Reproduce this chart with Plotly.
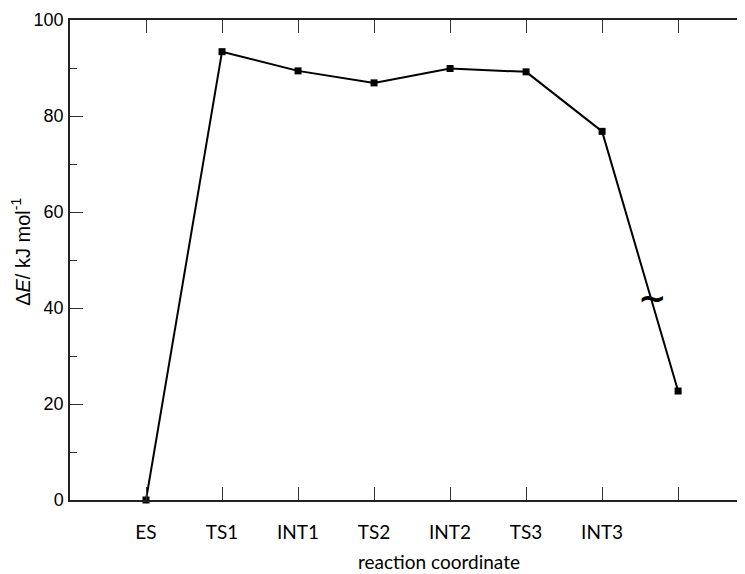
import plotly.graph_objects as go

categories = ["ES", "TS1", "INT1", "TS2", "INT2", "TS3", "INT3", ""]
energies = [0.0, 93.4, 89.4, 86.9, 89.9, 89.2, 76.8, 22.7]
positions = list(range(len(categories)))
y_ticks = [0, 20, 40, 60, 80, 100]

fig = go.Figure()
fig.add_trace(go.Scatter(
    x=positions, y=energies, mode="lines+markers",
    line=dict(color="black", width=2),
    marker=dict(symbol="square", size=7, color="black"),
    showlegend=False, cliponaxis=False,
))
# invisible trace to anchor the right-side tick axis
fig.add_trace(go.Scatter(x=[positions[0]], y=[energies[0]], yaxis="y2",
                         mode="markers", marker=dict(opacity=0),
                         showlegend=False, hoverinfo="skip"))

fig.update_layout(
    width=737, height=566,
    margin=dict(l=62, r=0, t=12, b=74),
    plot_bgcolor="white", paper_bgcolor="white",
    font=dict(family="Liberation Sans, Arial", size=18, color="black"),
    xaxis=dict(
        range=[-1, 7.88], tickvals=positions, ticktext=categories,
        ticks="inside", ticklen=13, tickwidth=1, tickcolor="#333",
        showline=True, linecolor="#222", linewidth=1.5, mirror="ticks",
        showgrid=False, zeroline=False, automargin=False,
        tickfont=dict(family="Lato, Carlito, Calibri", size=19),
        ticklabelstandoff=14,
    ),
    yaxis=dict(
        range=[0, 100], tickvals=y_ticks,
        ticks="inside", ticklen=13, tickwidth=1, tickcolor="#333",
        minor=dict(ticks="inside", ticklen=7, dtick=10, tickcolor="#333", showgrid=False),
        showline=True, linecolor="#222", linewidth=1.5,
        showgrid=False, zeroline=False, automargin=False,
        ticklabelstandoff=1,
    ),
    yaxis2=dict(
        range=[0, 100], tickvals=y_ticks, overlaying="y", side="right",
        ticks="inside", ticklen=3, tickwidth=1, tickcolor="#333",
        showticklabels=False, showline=False, showgrid=False, zeroline=False,
        automargin=False,
    ),
)

fig.add_annotation(text="Δ<i>E</i>/ kJ mol<sup>-1</sup>", xref="paper", yref="paper",
                   x=-0.0726, y=0.517, textangle=-90, showarrow=False,
                   xanchor="center", yanchor="middle",
                   font=dict(family="Liberation Sans, Arial", size=20))
fig.add_annotation(text="reaction coordinate", xref="paper", yref="paper",
                   x=0.547, y=-0.129, yanchor="middle", showarrow=False,
                   borderpad=0,
                   font=dict(family="Lato, Carlito, Calibri", size=19))
fig.add_annotation(text="<b>~</b>", x=6.66, y=42, showarrow=False,
                   font=dict(family="DejaVu Sans", size=34))

fig.write_html("out.html")
